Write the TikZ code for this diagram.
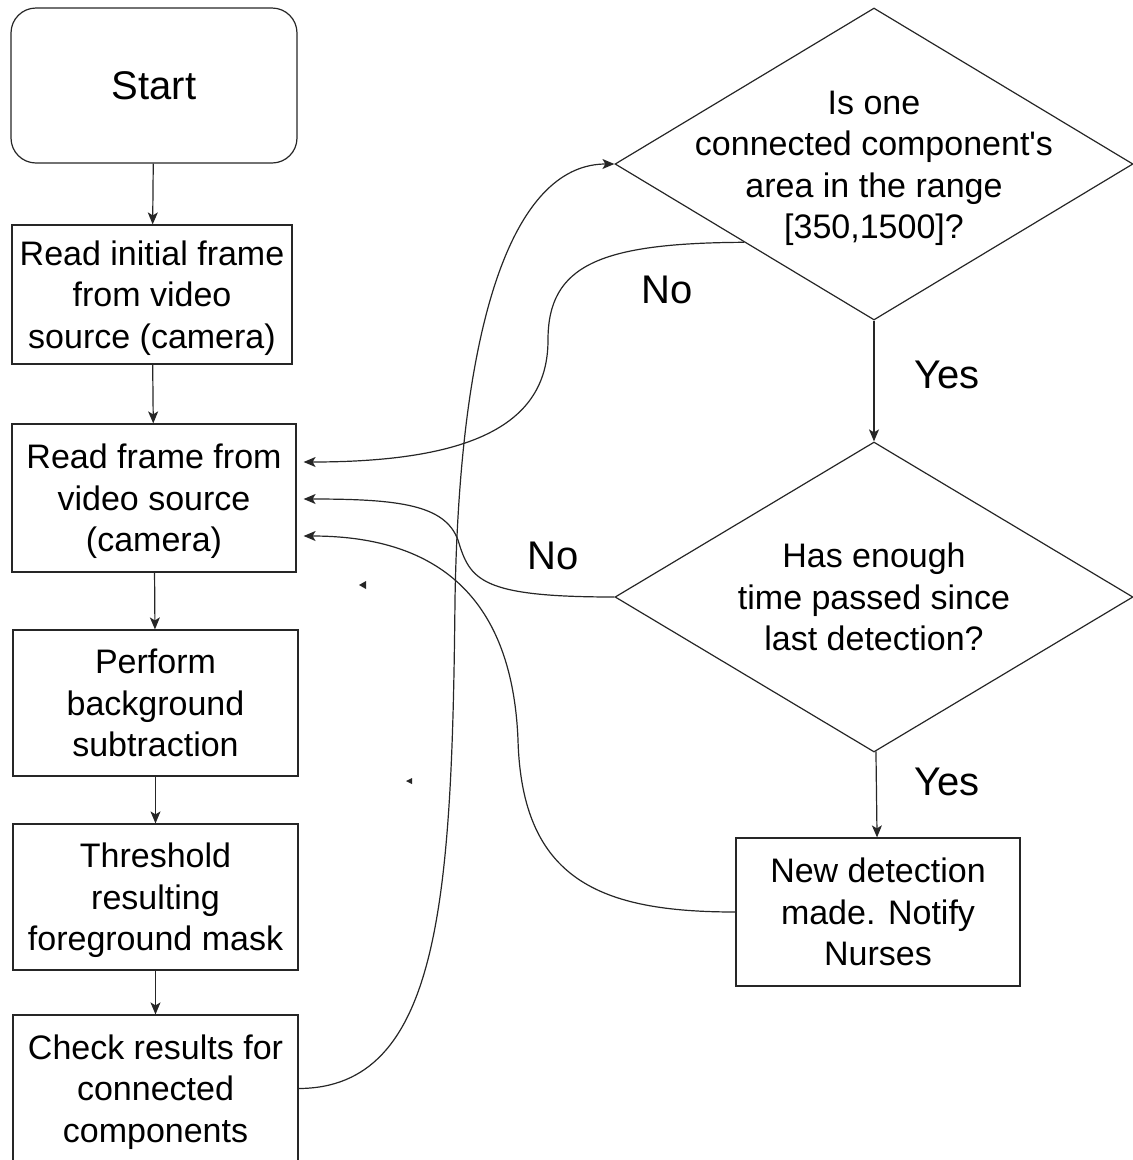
\documentclass[tikz,border=0pt]{standalone}
\usepackage{fontspec}
\setmainfont{Liberation Sans}
\usetikzlibrary{arrows.meta,shapes.geometric,calc}
\newcommand\tallstrut{\rule{0pt}{37pt}}

\begin{document}
\begin{tikzpicture}[x=1pt,y=-1pt,line width=1.2pt,
  terminal/.style={draw=black!85, rectangle, rounded corners=25pt, inner sep=0pt,
    minimum width=286pt, minimum height=155pt, font=\fontsize{40}{48}\selectfont},
  box/.style={draw=black!85, rectangle, align=center, inner sep=0pt,
    minimum width=285pt, minimum height=146pt, font=\fontsize{34}{41.5}\selectfont,
    execute at end node=\strut},
  decision/.style={draw=black!85, diamond, inner sep=0pt, minimum width=518pt},
  txt/.style={align=center, font=\fontsize{34}{41.5}\selectfont, execute at end node=\strut},
  answer/.style={font=\fontsize{40}{48}\selectfont},
  flow/.style={draw=black!85, -{Stealth[length=12pt,width=10pt,inset=3pt]}}]

\useasboundingbox (0,0) rectangle (1133,1160);

\node[terminal] (start) at (154,85.5) {Start};
\node[box, minimum width=280pt, minimum height=139pt] (initial) at (152,294.5)
  {\tallstrut Read initial frame\\from video\\source (camera)};
\node[box, minimum width=284pt, minimum height=148pt] (frame) at (154,498)
  {\tallstrut Read frame from\\video source\\(camera)};
\node[box] (subtract) at (155.5,703) {\tallstrut Perform\\background\\subtraction};
\node[box] (thresh) at (155.5,897) {\tallstrut Threshold\\resulting\\foreground mask};
\node[box, minimum height=147pt] (check) at (155.5,1088.5)
  {\tallstrut Check results for\\connected\\components};

\node[decision, minimum height=312pt] (area) at (874,164) {};
\node[txt] at (area)
  {\tallstrut Is one\\connected component\textquotesingle s\\area in the range\\{[350,1500]?}};
\node[decision, minimum height=310pt] (time) at (874,597) {};
\node[txt] at (time) {\tallstrut Has enough\\time passed since\\last detection?};
\node[box, minimum width=284pt, minimum height=148pt] (notify) at (878,912)
  {\tallstrut New detection\\made. Notify\\Nurses};

\draw[flow] (start) -- (initial);
\draw[flow] (initial) -- (frame);
\draw[flow] (frame) -- (subtract);
\draw[flow] (subtract) -- (thresh);
\draw[flow] (thresh) -- (check);
\draw[flow] (area) -- (time);
\draw[flow] (time) -- (notify);

\draw[flow] (check.east) .. controls (440,1088) and (452,900) .. (455,600)
  .. controls (460,300) and (520,164) .. (area.west);
\draw[flow] ($(area.west)!0.5!(area.south)$) .. controls (600,243) and (548,265) .. (548,340)
  .. controls (548,420) and (480,462) .. ([xshift=7pt,yshift=36pt]frame.east);
\draw[flow] (time.west) .. controls (480,597) and (470,580) .. (458,540)
  .. controls (445,505) and (400,499) .. ([xshift=7pt,yshift=-1pt]frame.east);
\draw[flow] (notify.west) .. controls (600,912) and (522,880) .. (518,740)
  .. controls (512,590) and (430,536) .. ([xshift=7pt,yshift=-38pt]frame.east);

\node[answer] (no1) at (667,290) {No};
\node[answer] (no2) at (553,556) {No};
\node[answer] (yes1) at (947,375) {Yes};
\node[answer] (yes2) at (947,782) {Yes};

\fill[black!85] (359,585) -- ++(7,-4) -- ++(0,8) -- cycle;
\fill[black!85] (406,781) -- ++(6,-3) -- ++(0,6) -- cycle;

\end{tikzpicture}
\end{document}
